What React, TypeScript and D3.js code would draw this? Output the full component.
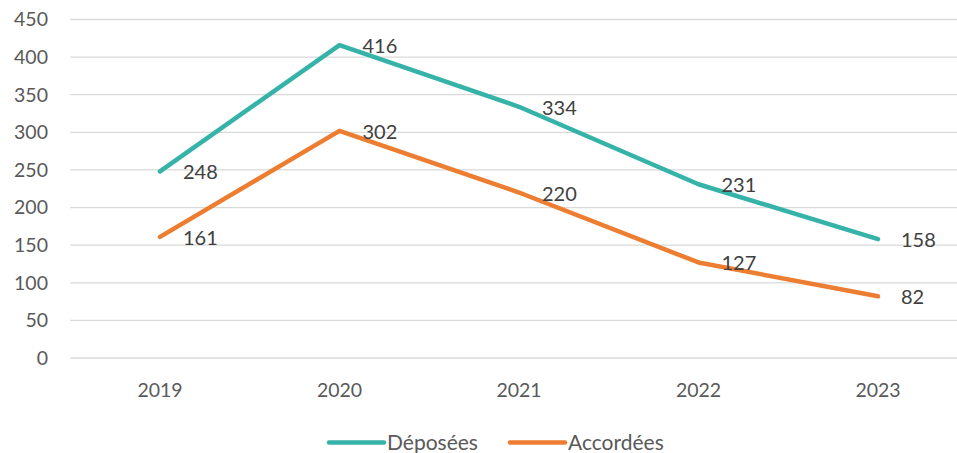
import { useEffect, useRef } from "react";
import * as d3 from "d3";

const years = ["2019", "2020", "2021", "2022", "2023"];
const deposees = [248, 416, 334, 231, 158];
const accordees = [161, 302, 220, 127, 82];
const yTicks = [0, 50, 100, 150, 200, 250, 300, 350, 400, 450];

const WIDTH = 957;
const HEIGHT = 453;
const FONT = "Lato, 'Open Sans', sans-serif";

function App() {
  const ref = useRef<SVGSVGElement | null>(null);

  useEffect(() => {
    if (!ref.current) return;
    const svg = d3.select(ref.current);
    svg.selectAll("*").remove();

    // band scale: the last band runs past the picture edge, as in the source
    const x = d3.scaleBand().domain(years).range([70.25, 967.75]);
    const y = d3.scaleLinear().domain([0, 450]).range([358, 19.5]);
    const cx = (yr: string) => (x(yr) || 0) + x.bandwidth() / 2;

    // gridlines
    svg
      .append("g")
      .selectAll("line")
      .data(yTicks)
      .join("line")
      .attr("x1", 70.25)
      .attr("x2", WIDTH)
      .attr("y1", (d) => y(d))
      .attr("y2", (d) => y(d))
      .attr("stroke", "#d9d9d9")
      .attr("stroke-width", 1.3);

    // y labels
    svg
      .append("g")
      .selectAll("text")
      .data(yTicks)
      .join("text")
      .attr("x", 48)
      .attr("y", (d) => y(d))
      .attr("dy", "0.35em")
      .attr("text-anchor", "end")
      .attr("fill", "#595959")
      .style("font-family", FONT)
      .style("font-size", "19.5px")
      .text((d) => d);

    // x labels
    svg
      .append("g")
      .selectAll("text")
      .data(years)
      .join("text")
      .attr("x", (d) => cx(d))
      .attr("y", 390)
      .attr("dy", "0.35em")
      .attr("text-anchor", "middle")
      .attr("fill", "#595959")
      .style("font-family", FONT)
      .style("font-size", "19.5px")
      .text((d) => d);

    const series = [
      { name: "Déposées", values: deposees, color: "#36B3A8" },
      { name: "Accordées", values: accordees, color: "#ED7D31" },
    ];

    const line = d3
      .line<number>()
      .x((_, i) => cx(years[i]))
      .y((d) => y(d));

    series.forEach((s) => {
      svg
        .append("path")
        .datum(s.values)
        .attr("d", line)
        .attr("fill", "none")
        .attr("stroke", s.color)
        .attr("stroke-width", 4.5)
        .attr("stroke-linecap", "round")
        .attr("stroke-linejoin", "round");

      svg
        .append("g")
        .selectAll("text")
        .data(s.values)
        .join("text")
        .attr("x", (_, i) => cx(years[i]) + 23)
        .attr("y", (d) => y(d) + 1)
        .attr("dy", "0.35em")
        .attr("fill", "#404040")
        .style("font-family", FONT)
        .style("font-size", "20px")
        .text((d) => d);
    });

    // legend
    const legendX = [329, 510];
    series.forEach((s, i) => {
      const g = svg.append("g").attr("transform", `translate(${legendX[i]},442.5)`);
      g.append("line")
        .attr("x1", 0)
        .attr("x2", 55)
        .attr("stroke", s.color)
        .attr("stroke-width", 4.5)
        .attr("stroke-linecap", "round");
      g.append("text")
        .attr("x", 58)
        .attr("y", 0)
        .attr("dy", "0.35em")
        .attr("fill", "#595959")
        .style("font-family", FONT)
        .style("font-size", "21px")
        .text(s.name);
    });
  }, []);

  return (
    <svg
      ref={ref}
      width={WIDTH}
      height={HEIGHT}
      style={{ position: "fixed", left: 0, top: 0, background: "#fff" }}
    />
  );
}

export default App;
